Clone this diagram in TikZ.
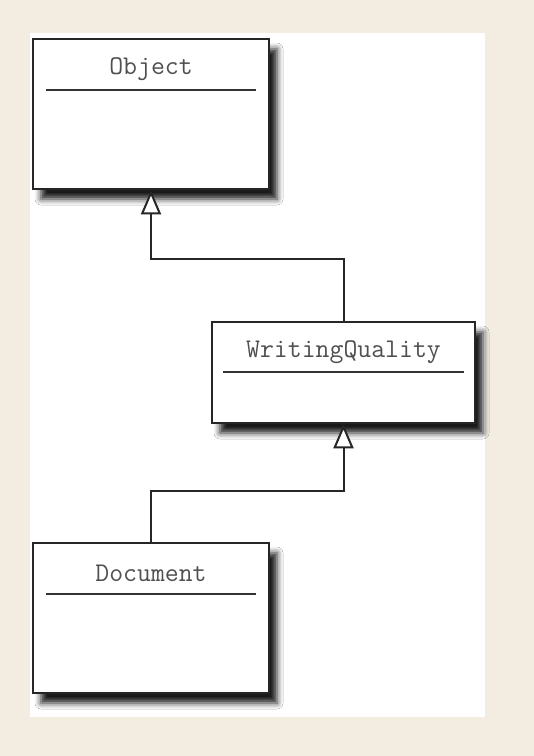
\documentclass[tikz,border=0pt]{standalone}
\usetikzlibrary{arrows.meta,shadows.blur}
\definecolor{paper}{RGB}{243,236,225}
\definecolor{textgray}{RGB}{80,80,80}

\begin{document}
\begin{tikzpicture}[x=1pt, y=-1pt,
  classbox/.style={draw=black!85, line width=2.6pt, fill=white, inner sep=0pt,
    blur shadow={shadow xshift=8pt, shadow yshift=-10pt, shadow blur radius=6pt, shadow opacity=90}},
  classname/.style={font=\ttfamily\fontsize{27}{27}\selectfont, text=textgray},
  sepline/.style={line width=2.2pt, draw=black!80},
  inherit/.style={-{Triangle[fill=white, length=24pt, width=20pt]}, line width=2pt, draw=black!85}]
\useasboundingbox (0,0) rectangle (534,756);
\fill[paper] (0,0) rectangle (534,756);
\fill[white] (30,33) rectangle (485,717);

\node (object) at (151, 114) [classbox, minimum width=236pt, minimum height=150pt] {};
\node (objtitle) at (151, 69) [classname] {Object};
\draw[sepline] (46, 90) -- (256, 90);

\node (wq) at (343.5, 372.5) [classbox, minimum width=263pt, minimum height=101pt] {};
\node (wqtitle) at (343.5, 352) [classname] {WritingQuality};
\draw[sepline] (223, 372) -- (464, 372);

\node (document) at (151, 618) [classbox, minimum width=236pt, minimum height=150pt] {};
\node (doctitle) at (151, 573) [classname] {Document};
\draw[sepline] (46, 594) -- (256, 594);

\draw[inherit] (wq.north) -- ++(0, -62) -| (object.south);
\draw[inherit] (document.north) -- ++(0, -51) -| (wq.south);
\end{tikzpicture}
\end{document}
